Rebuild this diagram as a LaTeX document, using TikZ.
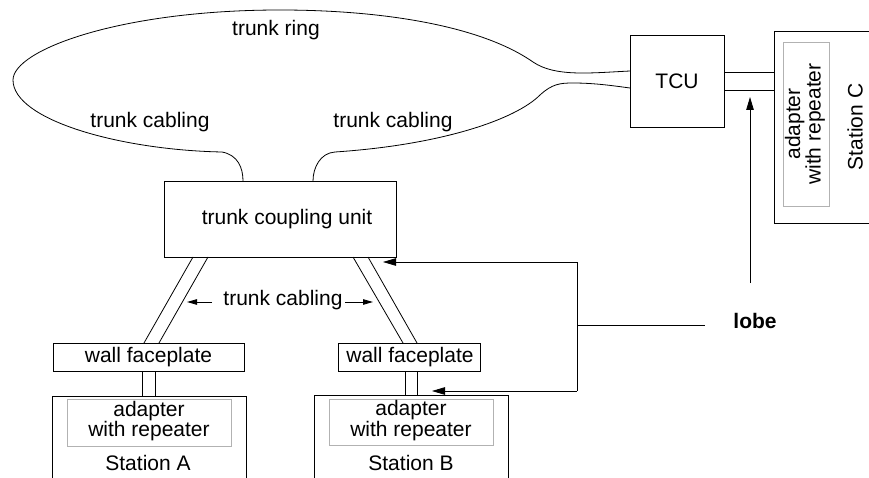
\documentclass[tikz,border=0pt]{standalone}
\usepackage{fontspec}
\setmainfont{Liberation Sans}
\usetikzlibrary{arrows.meta,calc}
\begin{document}
\begin{tikzpicture}[x=1pt,y=-1pt,line width=0.8pt,
  blk/.style={draw, inner sep=0pt, outer sep=0pt},
  inbox/.style={draw=gray!60, inner sep=0pt, outer sep=0pt},
  txt/.style={inner sep=0pt, align=center, font=\fontsize{21}{17}\selectfont},
  bigtip/.style={-{Triangle[length=13pt,width=7.5pt]}},
  smalltip/.style={-{Triangle[length=10pt,width=5.5pt]}}]
\useasboundingbox (0,0) rectangle (869,478);

% boxes
\node[blk, minimum width=94pt, minimum height=92pt] (tcu) at (677,81) {};
\node[txt] (tcutext) at (677,81) {TCU};
\node[blk, minimum width=232pt, minimum height=76pt] (tcou) at (280,219) {};
\node[txt] (tcoutext) at (287,219) {trunk coupling unit};
\node[blk, minimum width=191pt, minimum height=28pt] (wfA) at (148.5,357) {};
\node[txt] (wfAtext) at (148.5,357) {wall faceplate};
\node[blk, minimum width=142pt, minimum height=28pt] (wfB) at (409,357) {};
\node[txt] (wfBtext) at (410,357) {wall faceplate};

% stations (open at the picture's edges)
\coordinate (stAnw) at (52,396);
\coordinate (stAne) at (246,396);
\coordinate (stBnw) at (314,395);
\coordinate (stBne) at (508,395);
\coordinate (stCnw) at (774,31);
\coordinate (stCsw) at (774,223);
\draw (stAnw |- 0,478) -- (stAnw) -- (stAne) -- (stAne |- 0,478);
\draw (stBnw |- 0,478) -- (stBnw) -- (stBne) -- (stBne |- 0,478);
\draw (869,31) -- (stCnw) -- (stCsw) -- (869,223);

\node[inbox, minimum width=164pt, minimum height=47pt] (adA) at (149,422.5) {};
\node[txt] (adAtext) at (149,421) {adapter\\with repeater};
\node[txt] (stAtext) at (148,463) {Station A};
\node[inbox, minimum width=164pt, minimum height=46pt] (adB) at (411,422) {};
\node[txt] (adBtext) at (411,420.5) {adapter\\with repeater};
\node[txt] (stBtext) at (411,463) {Station B};
\node[inbox, minimum width=46pt, minimum height=164pt] (adC) at (806,124) {};
\node[txt, rotate=90] (adCtext) at (805,124) {adapter\\with repeater};
\node[txt, rotate=90] (stCtext) at (855,127) {Station C};

% labels
\node[txt] (ringtext) at (276,30) {trunk ring};
\node[txt] (tcL) at (150,122) {trunk cabling};
\node[txt] (tcR) at (393,122) {trunk cabling};
\node[txt] (tcM) at (283,300) {trunk cabling};
\node[txt, font=\fontsize{21}{17}\selectfont\bfseries] (lobetext) at (755,321) {lobe};

% trunk ring
\coordinate (tcuT) at (630,71);
\coordinate (tcuB) at (630,88);
\coordinate (tcouL) at (243,181);
\coordinate (tcouR) at (313,181);
\draw (tcuT) .. controls (590,73) and (555,77) .. (533,62)
  .. controls (480,25) and (380,10) .. (280,10)
  .. controls (120,10) and (13,50) .. (13,80)
  .. controls (13,120) and (120,150) .. (222,152)
  .. controls (238,155) and (243,168) .. (tcouL);
\draw (tcouR) .. controls (313,168) and (320,153) .. (335,152)
  .. controls (440,145) and (515,120) .. (540,95)
  .. controls (552,84) and (560,83) .. (573,83)
  .. controls (595,83) and (615,86) .. (tcuB);

% TCU to station C
\draw (tcu.east |- 0,72) -- (stCnw |- 0,72);
\draw (tcu.east |- 0,90) -- (stCnw |- 0,90);

% trunk coupling unit to wall faceplates
\draw (193,257) -- (144,343);
\draw (208,257) -- (159,343);
\draw (353,257) -- (403,343);
\draw (368,257) -- (417,343);

% wall faceplates to stations
\draw (142,371) -- (142,396);
\draw (155,371) -- (155,396);
\draw (405,371) -- (405,395);
\draw (417,371) -- (417,395);

% trunk cabling arrows
\coordinate (mAL) at (187,302);
\coordinate (mAR) at (373,302);
\draw[smalltip] (212,302) -- (mAL);
\draw[smalltip] (345,302) -- (mAR);

% lobe
\coordinate (lobeT) at (577,262);
\coordinate (lobeM) at (577,325);
\coordinate (lobeB) at (577,391);
\coordinate (cabTip) at (383,262);
\coordinate (stBTip) at (432,391);
\draw[bigtip] (lobeT) -- (cabTip);
\draw[bigtip] (lobeB) -- (stBTip);
\draw (lobeT) -- (lobeB);
\draw (lobeM) -- (705,325);
\coordinate (lobeUp) at (750,283);
\coordinate (lobeUpTip) at (750,97);
\draw[bigtip] (lobeUp) -- (lobeUpTip);
\end{tikzpicture}
\end{document}
